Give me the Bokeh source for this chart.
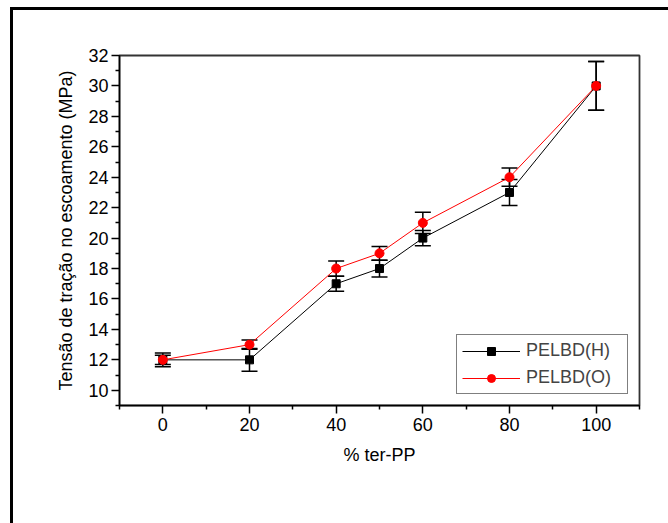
from bokeh.plotting import figure
from bokeh.models import (ColumnDataSource, Whisker, TeeHead, FixedTicker, Range1d,
                          Legend, LegendItem)
from bokeh.embed import file_html
from bokeh.resources import INLINE

# ---- data ----
ter_pp = [0, 20, 40, 50, 60, 80, 100]
pelbd_h = [12, 12, 17, 18, 20, 23, 30]
pelbd_h_err = [0.45, 0.75, 0.5, 0.55, 0.5, 0.85, 1.6]
pelbd_o = [12, 13, 18, 19, 21, 24, 30]
pelbd_o_err = [0.3, 0.3, 0.5, 0.45, 0.7, 0.6, 1.6]

y_major = [10, 12, 14, 16, 18, 20, 22, 24, 26, 28, 30, 32]
y_minor = [9, 11, 13, 15, 17, 19, 21, 23, 25, 27, 29, 31]
x_major = [0, 20, 40, 60, 80, 100]
x_minor = [-10, 10, 30, 50, 70, 90, 110]

FONT = "Liberation Sans"
FS = "18px"

src_h = ColumnDataSource(dict(x=ter_pp, y=pelbd_h,
                              upper=[v + e for v, e in zip(pelbd_h, pelbd_h_err)],
                              lower=[v - e for v, e in zip(pelbd_h, pelbd_h_err)]))
src_o = ColumnDataSource(dict(x=ter_pp, y=pelbd_o,
                              upper=[v + e for v, e in zip(pelbd_o, pelbd_o_err)],
                              lower=[v - e for v, e in zip(pelbd_o, pelbd_o_err)]))

p = figure(width=655, height=513, output_backend="svg", toolbar_location=None,
           x_range=Range1d(-10, 110), y_range=Range1d(9, 32),
           min_border_left=106, min_border_right=32, min_border_top=45,
           min_border_bottom=121)
p.styles = {"border-left": "3px solid black", "border-top": "3px solid black",
            "margin-left": "10px", "margin-top": "7px", "box-sizing": "content-box"}

p.grid.visible = False
p.background_fill_color = "white"
p.border_fill_color = "white"
p.outline_line_color = "#333333"
p.outline_line_width = 1.8

for ax in (p.xaxis[0], p.yaxis[0]):
    ax.axis_line_color = "black"
    ax.axis_line_width = 1.5
    ax.major_tick_line_color = "black"
    ax.minor_tick_line_color = "black"
    ax.major_tick_line_width = 1.5
    ax.minor_tick_line_width = 1.5
    ax.major_tick_out = 8
    ax.major_tick_in = 0
    ax.minor_tick_out = 4
    ax.minor_tick_in = 0
    ax.major_label_text_font = FONT
    ax.major_label_text_font_size = FS
    ax.major_label_text_color = "black"
    ax.axis_label_text_font = FONT
    ax.axis_label_text_font_size = FS
    ax.axis_label_text_font_style = "normal"
    ax.axis_label_text_color = "black"

p.xaxis.ticker = FixedTicker(ticks=x_major, minor_ticks=x_minor)
p.yaxis.ticker = FixedTicker(ticks=y_major, minor_ticks=y_minor)
p.xaxis.axis_label = "% ter-PP"
p.yaxis.axis_label = "Tensão de tração no escoamento (MPa)"
p.xaxis.major_label_standoff = 4
p.yaxis.major_label_standoff = 3
p.xaxis.axis_label_standoff = 11
p.yaxis.axis_label_standoff = 9

for src in (src_h, src_o):
    w = Whisker(source=src, base="x", upper="upper", lower="lower",
                line_color="black", line_width=1.5, level="underlay",
                upper_head=TeeHead(size=16, line_color="black", line_width=1.5),
                lower_head=TeeHead(size=16, line_color="black", line_width=1.5))
    p.add_layout(w)

lh = p.line("x", "y", source=src_h, line_color="black", line_width=1)
mh = p.scatter("x", "y", source=src_h, marker="square", size=8,
               fill_color="black", line_color="black")
lo = p.line("x", "y", source=src_o, line_color="#ff0000", line_width=1)
mo = p.scatter("x", "y", source=src_o, marker="circle", size=9,
               fill_color="#ff0000", line_color="#ff0000")

legend = Legend(items=[LegendItem(label="PELBD(H)", renderers=[lh, mh]),
                       LegendItem(label="PELBD(O)", renderers=[lo, mo])],
                location="bottom_right", margin=11, padding=5, spacing=6,
                glyph_width=58, glyph_height=20, label_standoff=6, label_width=96,
                label_text_font=FONT, label_text_font_size=FS,
                border_line_color="black", border_line_width=1,
                background_fill_color="white", background_fill_alpha=1)
p.add_layout(legend)

open("out.html", "w").write(file_html(p, INLINE))
